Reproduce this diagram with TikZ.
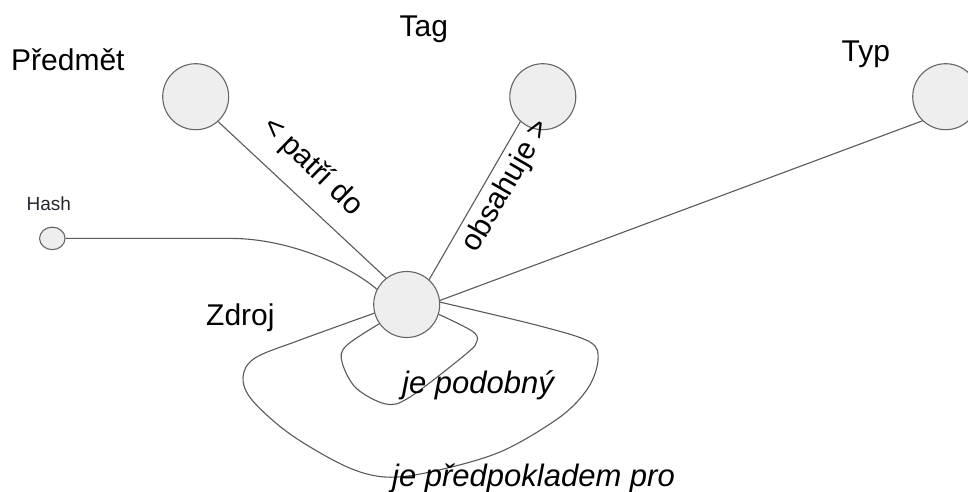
\documentclass[tikz,border=0pt]{standalone}
\usepackage{fontspec}
\setmainfont{Liberation Sans}
\usetikzlibrary{shapes.geometric}
\definecolor{circlefill}{HTML}{EEEEEE}
\definecolor{circleedge}{HTML}{666666}
\definecolor{edgegray}{HTML}{595959}
\definecolor{smalltext}{HTML}{262630}
\begin{document}
\begin{tikzpicture}[x=1pt,y=-1pt,
  entity/.style={circle, draw=circleedge, fill=circlefill, line width=1.1pt,
    inner sep=0pt, minimum size=66pt},
  smallentity/.style={ellipse, draw=circleedge, fill=circlefill, line width=1.1pt,
    inner sep=0pt, minimum width=25.5pt, minimum height=22.5pt},
  rel/.style={draw=edgegray, line width=1.1pt},
  title/.style={font=\fontsize{30}{36}\selectfont, inner sep=0pt, anchor=base west},
  edgetext/.style={font=\fontsize{30}{36}\selectfont, inner sep=0pt},
  looptext/.style={font=\fontsize{31}{37}\selectfont\itshape, inner sep=0pt, anchor=base west}
]
\useasboundingbox (0,0) rectangle (968,491);
\clip (0,0) rectangle (968,491);

% entities
\node[entity] (predmet) at (195.7,96.7) {};
\node[entity] (tag) at (542.8,96.7) {};
\node[entity] (typ) at (945.7,96.7) {};
\node[entity] (zdroj) at (406.7,304.5) {};
\node[smallentity] (hash) at (52.3,238.4) {};

% entity names
\node[title] (predmetname) at (11,70.7) {Předmět};
\node[title] (tagname) at (399.5,36.7) {Tag};
\node[title] (typname) at (841.5,61.7) {Typ};
\node[title] (zdrojname) at (206,325.7) {Zdroj};
\node[title, font=\fontsize{19}{23}\selectfont, text=smalltext] (hashname) at (26.5,210.7) {Hash};

% relations
\draw[rel] (predmet.312) -- (zdroj.128);
\draw[rel] (tag.228) -- (zdroj.48);
\draw[rel] (typ.226) -- (zdroj.7);
\draw[rel] (hash.east) -- ++(165,0) .. controls +(60,0) and +(-25,-22) .. (zdroj.153);

% self relation: je podobny
\draw[rel] plot[smooth, tension=0.55] coordinates {(zdroj.215) (346,346) (342,362)
  (356,388) (386,404) (410,397) (466,354) (477,341) (472,331) (zdroj.343)};

% self relation: je predpokladem pro
\draw[rel] plot[smooth, tension=0.55] coordinates {(zdroj.195) (300,340) (255,358)
  (243,377) (252,400) (290,434) (345,466) (385,477) (430,472) (500,452) (560,417)
  (588,388) (598,360) (590,342) (540,326) (zdroj.4)};

% relation labels
\node[edgetext, rotate=-44] (patrido) at (312.5,166.7) {< patří do};
\node[edgetext, rotate=60] (obsahuje) at (507,186) {obsahuje >};
\node[looptext] (podobny) at (402,393) {je podobný};
\node[looptext] (predpoklad) at (392,486) {je předpokladem pro};
\end{tikzpicture}
\end{document}
